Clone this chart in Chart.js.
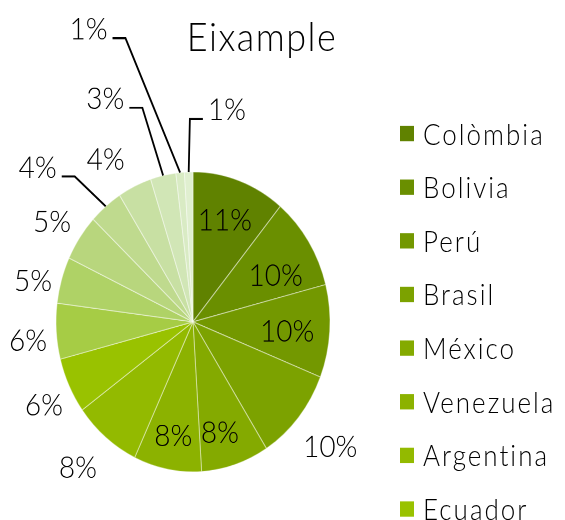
<!DOCTYPE html>
<html>
<head>
<meta charset="utf-8">
<script src="https://cdn.jsdelivr.net/npm/chart.js@4.4.1/dist/chart.umd.min.js"></script>
<style>
  html { overflow: hidden; }
  body { margin: 0; padding: 0; background: #fff; height: 520px; }
  /* la imatge original està estirada verticalment */
  #wrap { position: relative; width: 565px; height: 475px; transform: scaleY(1.0947); transform-origin: 0 0;
          font-family: Lato, sans-serif; font-weight: 300; color: #000; }
  #title { position: absolute; left: 0; width: 524px; top: 12px; text-align: center; font-size: 36px;
           letter-spacing: 1.5px; line-height: 42px; }
  #chart { position: absolute; left: 0; top: 0; }
  #legend { position: absolute; left: 400px; top: 97px; }
  .item { height: 49px; display: flex; align-items: center; font-size: 26px; letter-spacing: 2px; white-space: nowrap; }
  .box { width: 14px; height: 14px; margin-right: 9px; flex: none; }
</style>
</head>
<body>
<div id="wrap">
  <div id="title">Eixample</div>
  <canvas id="chart" width="565" height="475"></canvas>
  <div id="legend"></div>
</div>
<script>
// Dades
const countries = ['Colòmbia', 'Bolivia', 'Perú', 'Brasil', 'México', 'Venezuela', 'Argentina', 'Ecuador',
                   'Xile', 'Uruguai', 'Paraguai', 'Cuba', 'Guatemala', 'Hondures', 'Nicaragua', 'Panamà'];
const shares = [11, 10, 10, 10, 8, 8, 8, 6, 6, 5, 5, 4, 4, 3, 1, 1];

// Colors (verds, del fosc al clar)
const colors = ['#608200', '#6a8f00', '#739800', '#7ca200', '#84aa00', '#8cb200', '#93ba00', '#99c200',
                '#a6cc45', '#afd266', '#b8d67d', '#bfda8e', '#c8e0a3', '#d1e6b6', '#d9ebc4', '#e0efd0'];

// Posició de les etiquetes: [factor del radi, desplaçament d'angle en graus]
const labelPlace = [[0.72, -1], [0.68, 5], [0.69, 1.2], [1.30, 0], [0.76, 3], [0.77, 0], [1.28, 1.4], [1.22, -1.7],
                    [1.21, -2.1], [1.20, -2.8], [1.23, -1], [1.535, -8], [1.26, -5.2], [1.625, -10.6], [2.10, -15.9], [1.44, 11.7]];
const withLeader = [false, false, false, false, false, false, false, false,
                    false, false, false, true, false, true, true, true];

const LABEL_SIZE = 28;

// Etiquetes de percentatge amb línies guia
const pctLabels = {
  id: 'pctLabels',
  afterDatasetsDraw(chart) {
    const ctx = chart.ctx;
    const meta = chart.getDatasetMeta(0);
    const total = shares.reduce((a, b) => a + b, 0);
    ctx.save();
    ctx.font = '300 ' + LABEL_SIZE + 'px Lato';
    ctx.fillStyle = '#000';
    ctx.strokeStyle = '#000';
    ctx.lineWidth = 1.8;
    ctx.textAlign = 'center';
    ctx.textBaseline = 'alphabetic';
    meta.data.forEach((arc, i) => {
      const p = arc.getProps(['x', 'y', 'startAngle', 'endAngle', 'outerRadius'], true);
      const mid = (p.startAngle + p.endAngle) / 2;
      const a = mid + labelPlace[i][1] * Math.PI / 180;
      const r = p.outerRadius * labelPlace[i][0];
      const lx = p.x + Math.cos(a) * r;
      const ly = p.y + Math.sin(a) * r;
      const txt = Math.round(shares[i] / total * 100) + '%';
      ctx.fillText(txt, lx, ly + LABEL_SIZE * 0.36);
      if (withLeader[i]) {
        const w = ctx.measureText(txt).width;
        const ex = p.x + Math.cos(mid) * p.outerRadius;
        const ey = p.y + Math.sin(mid) * p.outerRadius;
        const side = ex > lx ? 1 : -1;
        const sx = lx + side * (w / 2 + 5);
        const sy = ly + 9;
        ctx.beginPath();
        ctx.moveTo(sx, sy);
        ctx.lineTo(sx + side * 13, sy);
        ctx.lineTo(ex, ey);
        ctx.stroke();
      }
    });
    ctx.restore();
  }
};

const chart = new Chart(document.getElementById('chart').getContext('2d'), {
  type: 'pie',
  data: {
    labels: countries,
    datasets: [{
      data: shares,
      backgroundColor: colors,
      borderColor: 'rgba(255,255,255,0.45)',
      borderWidth: 1
    }]
  },
  options: {
    responsive: false,
    animation: false,
    devicePixelRatio: 2,
    layout: { padding: { left: 55.5, right: 234.5, top: 156.5, bottom: 43.5 } },
    plugins: {
      legend: { display: false },
      title: { display: false },
      tooltip: { enabled: false }
    }
  },
  plugins: [pctLabels]
});

// Llegenda HTML
const legend = document.getElementById('legend');
chart.data.labels.forEach((name, i) => {
  const item = document.createElement('div');
  item.className = 'item';
  const box = document.createElement('span');
  box.className = 'box';
  box.style.background = colors[i];
  item.appendChild(box);
  item.appendChild(document.createTextNode(name));
  legend.appendChild(item);
});
</script>
</body>
</html>
